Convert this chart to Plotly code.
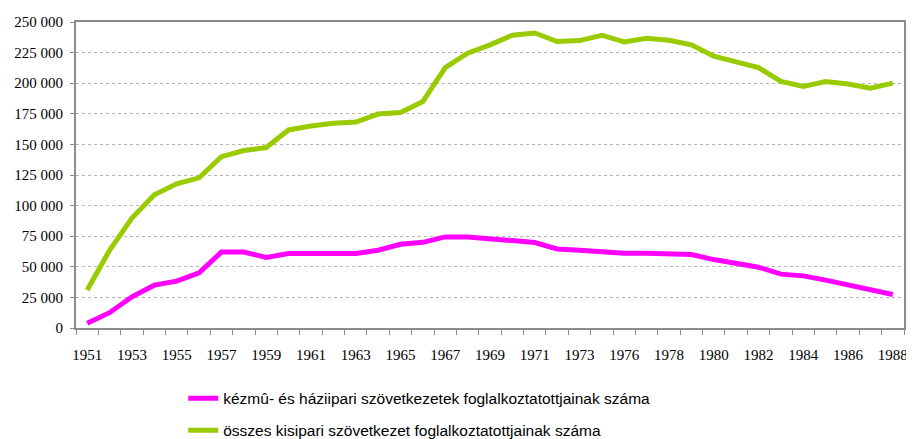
import plotly.graph_objects as go

years = [1951, 1952, 1953, 1954, 1955, 1956, 1957, 1958, 1959, 1960,
         1961, 1962, 1963, 1964, 1965, 1966, 1967, 1968, 1969, 1970,
         1971, 1972, 1973, 1975, 1976, 1977, 1978, 1979, 1980, 1981,
         1982, 1983, 1984, 1985, 1986, 1987, 1988]

kezmu = [3800, 12500, 25500, 35000, 38300, 45000, 62100, 62100, 57600, 60800,
         60800, 60800, 60800, 63500, 68400, 70000, 74400, 74400, 72500, 71400,
         69800, 64600, 63500, 62100, 61100, 61100, 60800, 60000, 55900, 52400,
         49700, 44000, 42600, 39100, 35000, 31500, 27400]

osszes = [31000, 63500, 89800, 108900, 117800, 122700, 140000, 145000, 147400, 161800,
          165000, 167200, 168300, 174800, 176100, 185100, 212800, 224500, 231300, 239200,
          241000, 234000, 234800, 239200, 233700, 236700, 235100, 231300, 222100, 217400,
          212800, 201400, 197300, 201400, 199300, 196000, 200100]

series_names = ["kézmû- és háziipari szövetkezetek foglalkoztatottjainak száma",
                "összes kisipari szövetkezet foglalkoztatottjainak száma"]

y_ticks = [0, 25000, 50000, 75000, 100000, 125000, 150000, 175000, 200000, 225000, 250000]
y_tick_labels = ["0", "25 000", "50 000", "75 000", "100 000", "125 000", "150 000",
                 "175 000", "200 000", "225 000", "250 000"]

idx = list(range(len(years)))
x_label_idx = idx[::2]
x_label_text = [str(years[i]) for i in x_label_idx]

SERIF = "Liberation Serif"
SANS = "Liberation Sans"

fig = go.Figure()
fig.add_trace(go.Scatter(x=idx, y=kezmu, mode="lines", name=series_names[0],
                         line=dict(color="#FF00FF", width=5), legend="legend"))
fig.add_trace(go.Scatter(x=idx, y=osszes, mode="lines", name=series_names[1],
                         line=dict(color="#99CC00", width=5), legend="legend2"))

legend_common = dict(orientation="v", xanchor="left", yanchor="middle",
                     font=dict(family=SANS, size=15.5, color="#000"),
                     itemwidth=30, bgcolor="rgba(0,0,0,0)")

fig.update_layout(
    width=906, height=470,
    margin=dict(l=66, r=6, t=13, b=150),
    paper_bgcolor="white", plot_bgcolor="white",
    showlegend=True,
    legend=dict(x=0.1295, y=-0.2313, **legend_common),
    legend2=dict(x=0.1295, y=-0.3355, **legend_common),
    font=dict(family=SERIF, size=15, color="#000"),
)

fig.update_xaxes(
    range=[-0.5, len(years) - 0.5],
    tickmode="array", tickvals=x_label_idx, ticktext=x_label_text,
    ticks="", ticklabelstandoff=12, showgrid=False, zeroline=False,
    showline=True, linecolor="#8c8c8c", linewidth=2, mirror=True,
    tickfont=dict(family=SERIF, size=15, color="#000"),
    minor=dict(tickmode="linear", tick0=-0.5, dtick=1, ticks="outside",
               ticklen=5, tickcolor="#8c8c8c", tickwidth=1, showgrid=False),
)

fig.update_yaxes(
    range=[0, 250000],
    tickmode="array", tickvals=y_ticks, ticktext=y_tick_labels,
    ticks="outside", ticklen=4, tickcolor="#8c8c8c", ticklabelstandoff=4,
    showgrid=True, gridcolor="#b4b4b4", griddash="dot", gridwidth=1,
    zeroline=False,
    showline=True, linecolor="#8c8c8c", linewidth=2, mirror=True,
    tickfont=dict(family=SERIF, size=15, color="#000"),
)

fig.write_html("out.html")
